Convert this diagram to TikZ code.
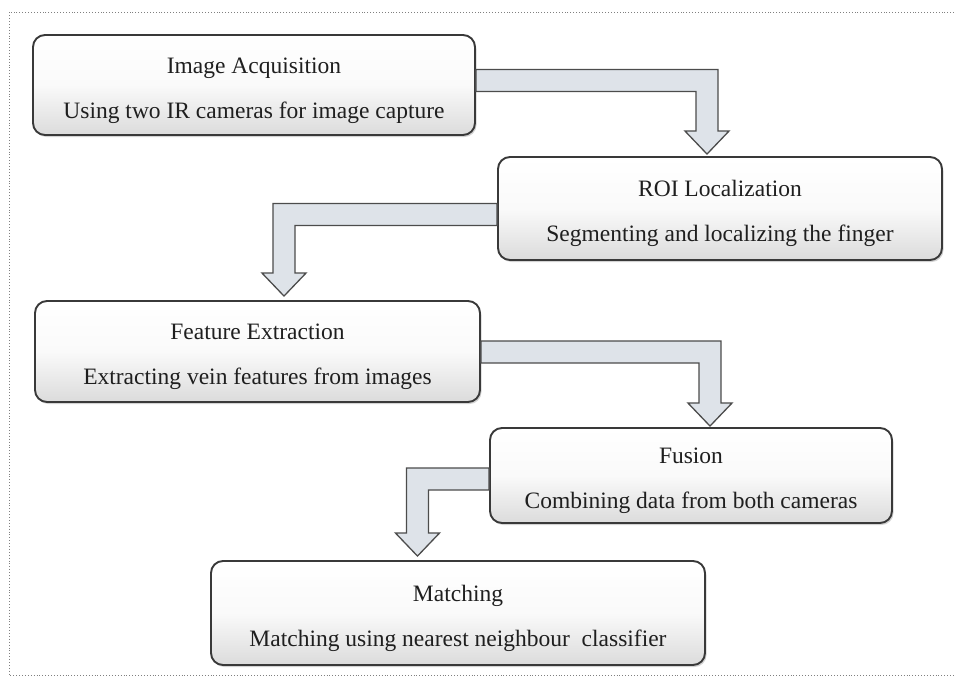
\documentclass[tikz,border=0pt]{standalone}
\usepackage{fontspec}
\setmainfont{Liberation Serif}
\usepackage{tikz}
\usetikzlibrary{calc,shadows}

\tikzset{
    stage/.style={draw=gray!45!black, line width=1.9pt, rounded corners=12pt,
        top color=white, bottom color=gray!28, middle color=gray!4,
        drop shadow={shadow xshift=1.5pt,shadow yshift=-2pt,opacity=0.35},
        align=center, text=black!88, inner sep=0pt,
        font=\fontsize{23.5}{45}\selectfont},
    flowarrow/.style={draw=gray!60!black, line width=1.3pt, line join=miter,
        fill={rgb,255:red,222;green,227;blue,233}}
}

% title line and description line of a stage box
\newcommand{\stagetext}[2]{\rule{0pt}{27pt}#1\\#2}

% elbow block arrow: start on a box side, tip on the next box, #3 = 1 right / -1 left
\newcommand{\elbowarrow}[3]{
    \draw[flowarrow] let \p1=(#1), \p2=(#2) in
        (\x1,\y1+11pt) -- (\x2+#3*11pt,\y1+11pt) -- (\x2+#3*11pt,\y2+23pt)
        -- (\x2+#3*22pt,\y2+23pt) -- (\x2,\y2) -- (\x2-#3*22pt,\y2+23pt)
        -- (\x2-#3*11pt,\y2+23pt) -- (\x2-#3*11pt,\y1-11pt) -- (\x1,\y1-11pt) -- cycle;
}

\begin{document}
\begin{tikzpicture}[x=1pt,y=-1pt]

    \useasboundingbox (0,0) rectangle (954,686);
    \draw[gray, dotted, line width=0.9pt] (954,12) -- (9,12) -- (9,675) -- (954,675);

    \node[stage, minimum width=442pt, minimum height=100pt] (acq) at (254,85)
        {\stagetext{Image Acquisition}{Using two IR cameras for image capture}};
    \node[stage, minimum width=444pt, minimum height=103pt] (roi) at (720,208.5)
        {\stagetext{ROI Localization}{Segmenting and localizing the finger}};
    \node[stage, minimum width=445pt, minimum height=101pt] (feat) at (257.5,351.5)
        {\stagetext{Feature Extraction}{Extracting vein features from images}};
    \node[stage, minimum width=402pt, minimum height=95pt] (fus) at (691,475.5)
        {\stagetext{Fusion}{Combining data from both cameras}};
    \node[stage, minimum width=494pt, minimum height=104pt] (match) at (458,613)
        {\stagetext{Matching}{Matching using nearest neighbour~ classifier}};

    \coordinate (s1) at ($(acq.east)+(0,-4.5)$);
    \coordinate (t1) at ($(roi.north)+(-13,-2)$);
    \coordinate (s2) at ($(roi.west)+(0,6)$);
    \coordinate (t2) at ($(feat.north)+(26.5,-4)$);
    \coordinate (s3) at ($(feat.east)+(0,0.5)$);
    \coordinate (t3) at ($(fus.north)+(19,-1)$);
    \coordinate (s4) at ($(fus.west)+(0,3.5)$);
    \coordinate (t4) at ($(match.north)+(-40.5,-4)$);

    \elbowarrow{s1}{t1}{1}
    \elbowarrow{s2}{t2}{-1}
    \elbowarrow{s3}{t3}{1}
    \elbowarrow{s4}{t4}{-1}
\end{tikzpicture}
\end{document}
